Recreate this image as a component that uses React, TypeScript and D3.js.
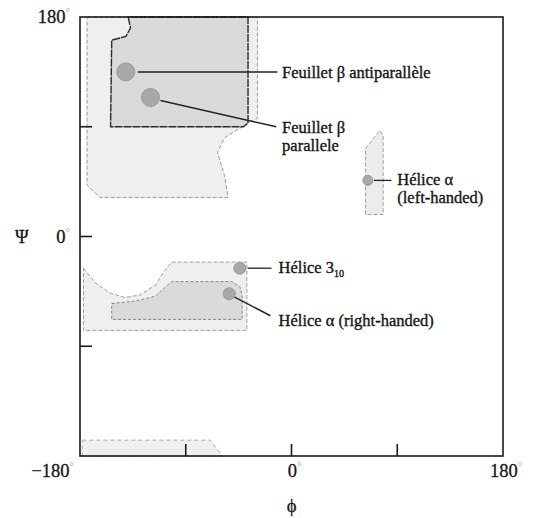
import React from "react";
import * as d3 from "d3";

const W = 539, H = 518;
const M = { left: 80, right: 36, top: 17, bottom: 62 };

// Regions in (phi, psi) degrees
const betaOuter: [number, number][] = [
  [-174, 180], [-29, 180], [-29, 97], [-37, 93], [-57, 81], [-63, 69], [-57, 50], [-54, 32], [-163, 32], [-174, 42],
];
const betaInner: [number, number][] = [
  [-139, 180], [-137, 171], [-141, 164], [-153, 161], [-154, 90], [-41, 90], [-37, 93], [-37, 180],
];
const alphaLRegion: [number, number][] = [
  [63, 72], [75, 87], [78, 83], [78, 18], [63, 18],
];
const alphaROuter: [number, number][] = [
  [-177, -26], [-167, -38], [-155, -46], [-142, -50], [-129, -48], [-116, -40], [-108, -28], [-102, -21],
  [-38, -21], [-38, -77], [-177, -77],
];
const alphaRInner: [number, number][] = [
  [-153, -55], [-133, -53], [-116, -49], [-108, -42], [-102, -37], [-51, -37], [-44, -41], [-42, -48],
  [-42, -68], [-153, -68],
];
const bottomStrip: [number, number][] = [
  [-178, -167], [-69, -167], [-59, -180], [-178, -180],
];

// Conformation points
const pointNames = ["betaAnti", "betaPar", "alphaL", "helix310", "alphaR"];
const pointPhi = [-141, -120, 65, -44, -53];
const pointPsi = [135, 114, 46, -26, -47];
const pointR = [9, 9, 5, 6, 6];

// Tick values
const ticks = [-90, 0, 90];

export default function App() {
  const x = d3.scaleLinear().domain([-180, 180]).range([M.left, W - M.right]);
  const y = d3.scaleLinear().domain([-180, 180]).range([H - M.bottom, M.top]);
  const line = d3.line<[number, number]>().x(d => x(d[0])).y(d => y(d[1])).curve(d3.curveLinearClosed);

  const font = "'Liberation Serif', 'Times New Roman', serif";
  const tc = "#151515";
  const P = (i: number) => [x(pointPhi[i]), y(pointPsi[i])];

  const deg = <tspan fill="#999" stroke="none" fontSize={11} dy={-7}>°</tspan>;

  const [ax, ay] = P(0);
  const [bx, by] = P(1);
  const [lx, ly] = P(2);
  const [hx, hy] = P(3);
  const [rx, ry] = P(4);

  return (
    <svg width={W} height={H} style={{ position: "absolute", left: 0, top: 0, background: "#fff" }} fontFamily={font}>
      {/* regions */}
      <path d={line(betaOuter)!} fill="#efefef" stroke="#9a9a9a" strokeDasharray="4,2" strokeWidth={1} />
      <path d={line(betaInner)!} fill="#dadada" stroke="#2a2a2a" strokeDasharray="8,1" strokeWidth={1.4} />
      <path d={line(alphaLRegion)!} fill="#ececec" stroke="#a0a0a0" strokeDasharray="4,2" strokeWidth={1} />
      <path d={line(alphaROuter)!} fill="#efefef" stroke="#a0a0a0" strokeDasharray="4,2" strokeWidth={1} />
      <path d={line(alphaRInner)!} fill="#dadada" stroke="#888" strokeDasharray="3,2" strokeWidth={1} />
      <path d={line(bottomStrip)!} fill="#efefef" stroke="#aaa" strokeDasharray="4,3" strokeWidth={1} />

      {/* leader lines */}
      <line x1={ax + 12} y1={ay} x2={x(-12)} y2={ay} stroke="#222" strokeWidth={1.5} />
      <line x1={bx + 10} y1={by + 3} x2={x(-13)} y2={y(90)} stroke="#222" strokeWidth={1.5} />
      <line x1={lx + 6} y1={ly} x2={x(85)} y2={ly} stroke="#222" strokeWidth={1.3} />
      <line x1={hx + 8} y1={hy} x2={x(-17)} y2={hy} stroke="#222" strokeWidth={1.3} />
      <line x1={rx + 5} y1={ry + 3} x2={x(-18)} y2={y(-65)} stroke="#222" strokeWidth={1.5} />

      {/* points */}
      {pointNames.map((n, i) => (
        <circle key={n} cx={x(pointPhi[i])} cy={y(pointPsi[i])} r={pointR[i]} fill="#a8a8a8" stroke="#999" strokeWidth={1} />
      ))}

      {/* frame */}
      <rect x={M.left} y={M.top} width={W - M.left - M.right} height={H - M.top - M.bottom} fill="none" stroke="#1a1a1a" strokeWidth={1.6} />
      {ticks.map(t => (
        <g key={"t" + t}>
          <line x1={M.left} x2={M.left + 12} y1={y(t)} y2={y(t)} stroke="#1a1a1a" strokeWidth={1.6} />
          <line x1={x(t)} x2={x(t)} y1={H - M.bottom} y2={H - M.bottom - 12} stroke="#1a1a1a" strokeWidth={1.6} />
        </g>
      ))}

      {/* axis labels */}
      <g fill={tc} stroke={tc} strokeWidth={0.3} fontSize={18.5}>
        <text x={M.left - 10} y={y(180) + 6} textAnchor="end">180{deg}</text>
        <text x={M.left - 10} y={y(0) + 6} textAnchor="end">0{deg}</text>
        <text x={15} y={y(0) + 6}>Ψ</text>
        <text x={M.left - 6} y={477} textAnchor="end">−180{deg}</text>
        <text x={x(0) + 3} y={477} textAnchor="middle">0{deg}</text>
        <text x={x(180) + 3} y={477} textAnchor="middle">180{deg}</text>
        <text x={x(0)} y={512} textAnchor="middle">ϕ</text>
      </g>

      {/* annotations */}
      <g fill={tc} stroke={tc} strokeWidth={0.35} fontSize={16.5}>
        <text x={x(-8)} y={ay + 6}>Feuillet β antiparallèle</text>
        <text x={x(-8)} y={y(90) + 6}>Feuillet β</text>
        <text x={x(-8)} y={y(90) + 24}>parallele</text>
        <text x={x(90)} y={ly + 5}>Hélice α</text>
        <text x={x(90)} y={ly + 23}>(left-handed)</text>
        <text x={x(-11)} y={hy + 5}>Hélice 3<tspan fontSize={10} dy={4}>10</tspan></text>
        <text x={x(-11)} y={y(-65) + 10}>Hélice α (right-handed)</text>
      </g>
    </svg>
  );
}
